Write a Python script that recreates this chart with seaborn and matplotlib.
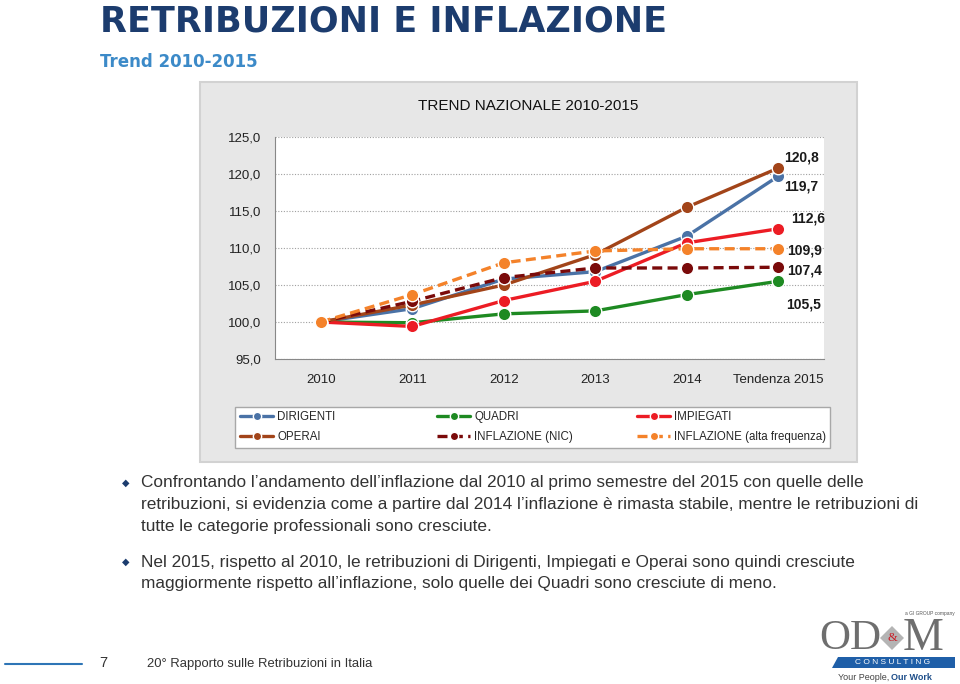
import pandas as pd
import seaborn as sns
import matplotlib.pyplot as plt
from matplotlib.patches import Rectangle, Polygon

# Dati (indice 2010 = 100)
anni = ["2010", "2011", "2012", "2013", "2014", "Tendenza 2015"]
dirigenti = [100.0, 101.8, 105.8, 106.8, 111.6, 119.7]
quadri = [100.0, 99.9, 101.1, 101.5, 103.7, 105.5]
impiegati = [100.0, 99.4, 102.9, 105.5, 110.7, 112.6]
operai = [100.0, 102.3, 105.0, 109.1, 115.5, 120.8]
infl_nic = [100.0, 102.8, 106.0, 107.3, 107.3, 107.4]
infl_alta = [100.0, 103.7, 108.0, 109.6, 109.9, 109.9]

serie = {
    "DIRIGENTI": dirigenti,
    "QUADRI": quadri,
    "IMPIEGATI": impiegati,
    "OPERAI": operai,
    "INFLAZIONE (NIC)": infl_nic,
    "INFLAZIONE (alta frequenza)": infl_alta,
}
palette = {
    "DIRIGENTI": "#4A72A6",
    "QUADRI": "#1E8A22",
    "IMPIEGATI": "#EC1C24",
    "OPERAI": "#A24419",
    "INFLAZIONE (NIC)": "#7A0A0A",
    "INFLAZIONE (alta frequenza)": "#F4822A",
}
dashes = {k: "" for k in serie}
dashes["INFLAZIONE (NIC)"] = (3, 1.6)
dashes["INFLAZIONE (alta frequenza)"] = (3, 1.6)
markers = {k: "o" for k in serie}

rows = []
for nome, valori in serie.items():
    for i, v in enumerate(valori):
        rows.append({"x": i, "valore": v, "serie": nome})
df = pd.DataFrame(rows)

sns.set_style("white")
plt.rcParams["font.family"] = ["Liberation Sans", "DejaVu Sans"]

fig = plt.figure(figsize=(9.6, 6.84), dpi=100)


def fx(px):
    return px / 960


def fy(py):
    return 1 - py / 684


# riquadro grigio del grafico
fig.patches.append(Rectangle((fx(200), fy(462)), fx(657), 380 / 684,
                             transform=fig.transFigure, facecolor="#E7E7E7",
                             edgecolor="#D2D2D2", lw=1.5, zorder=-5))

ax = fig.add_axes([fx(275), fy(359), fx(549), 222 / 684])
ax.set_zorder(2)
ax.set_facecolor("white")

sns.lineplot(data=df, x="x", y="valore", hue="serie", style="serie",
             palette=palette, dashes=dashes, markers=markers, ax=ax,
             linewidth=2.4, markersize=9, markeredgecolor="white",
             markeredgewidth=1.0, clip_on=False)

ax.set_xlim(-0.5, 5.5)
ax.set_ylim(95, 125)
ticks_y = [95, 100, 105, 110, 115, 120, 125]
ax.set_yticks(ticks_y)
ax.set_yticklabels([f"{v:.1f}".replace(".", ",") for v in ticks_y])
ax.set_xticks(range(len(anni)))
ax.set_xticklabels(anni)
ax.set_xticks([i - 0.5 for i in range(len(anni) + 1)], minor=True)
ax.tick_params(axis="x", which="major", length=0, pad=11, labelsize=9.5, colors="#222222")
ax.tick_params(axis="x", which="minor", length=4, color="#888888", direction="out")
ax.tick_params(axis="y", length=3, color="#888888", labelsize=9.5, colors="#222222", pad=7)
ax.yaxis.grid(True, linestyle=(0, (1, 1.5)), color="#A0A0A0", lw=0.8)
ax.set_axisbelow(True)
for s in ["top", "right"]:
    ax.spines[s].set_visible(False)
ax.spines["left"].set_color("#888888")
ax.spines["bottom"].set_color("#888888")
ax.set_xlabel("")
ax.set_ylabel("")

# etichette finali
offsets = {
    "OPERAI": (4, 7.5),
    "DIRIGENTI": (4, -7.5),
    "IMPIEGATI": (9, 7.5),
    "INFLAZIONE (alta frequenza)": (6.5, -1),
    "INFLAZIONE (NIC)": (6.5, -2),
    "QUADRI": (6, -17),
}
for nome, (dx, dy) in offsets.items():
    v = serie[nome][-1]
    ax.annotate(f"{v:.1f}".replace(".", ","), (len(anni) - 1, v),
                xytext=(dx, dy), textcoords="offset points", ha="left", va="center",
                fontsize=10, fontweight="bold", color="#1A1A1A", annotation_clip=False)

fig.text(fx(528), fy(106), "TREND NAZIONALE 2010-2015", ha="center", va="center",
         fontsize=11, color="#111111")

# legenda: tre colonne di larghezza uguale
handles, labels = ax.get_legend_handles_labels()
ax.get_legend().remove()
hmap = dict(zip(labels, handles))
for h in hmap.values():
    h.set_markersize(6)
    h.set_linewidth(2.4)
fig.patches.append(Rectangle((fx(235), fy(448)), fx(595), 41 / 684,
                             transform=fig.transFigure, facecolor="white",
                             edgecolor="#A8A8A8", lw=1, zorder=1))
colonne = [(240, ["DIRIGENTI", "OPERAI"]),
           (437, ["QUADRI", "INFLAZIONE (NIC)"]),
           (637, ["IMPIEGATI", "INFLAZIONE (alta frequenza)"])]
for x0, nomi in colonne:
    lg = fig.legend([hmap[k] for k in nomi], nomi, loc="center left",
                    bbox_to_anchor=(fx(x0), fy(427)), frameon=False, fontsize=8.3,
                    handlelength=2.9, labelspacing=0.75, borderpad=0, borderaxespad=0,
                    handletextpad=0.35)
    lg.set_zorder(3)

# intestazione
fig.text(fx(100), fy(32), "RETRIBUZIONI E INFLAZIONE", ha="left", va="baseline",
         fontsize=25.2, fontweight="bold", color="#1C3C6E", family="DejaVu Sans")
fig.text(fx(100), fy(67), "Trend 2010-2015", ha="left", va="baseline",
         fontsize=12, fontweight="bold", color="#3C8AC8", family="DejaVu Sans")

# testo puntato
testo_col = "#333333"
righe1 = [
    "Confrontando l\u2019andamento dell\u2019inflazione dal 2010 al primo semestre del 2015 con quelle delle",
    "retribuzioni, si evidenzia come a partire dal 2014 l\u2019inflazione \u00e8 rimasta stabile, mentre le retribuzioni di",
    "tutte le categorie professionali sono cresciute.",
]
righe2 = [
    "Nel 2015, rispetto al 2010, le retribuzioni di Dirigenti, Impiegati e Operai sono quindi cresciute",
    "maggiormente rispetto all\u2019inflazione, solo quelle dei Quadri sono cresciute di meno.",
]
for blocco, y0 in [(righe1, 483), (righe2, 562)]:
    fig.text(fx(126), fy(y0), "\u25c6", ha="center", va="center", fontsize=7,
             color="#1C3C6E", family="DejaVu Sans")
    for i, r in enumerate(blocco):
        fig.text(fx(141), fy(y0 + i * 21.7), r, ha="left", va="center",
                 fontsize=12.4, color=testo_col)

# piè di pagina
fig.add_artist(plt.Line2D([fx(5), fx(82)], [fy(664), fy(664)],
                          color="#2E75B6", lw=1.5, transform=fig.transFigure))
fig.text(fx(103), fy(663), "7", ha="center", va="center", fontsize=10.5, color="#333333")
fig.text(fx(147), fy(664), "20\u00b0 Rapporto sulle Retribuzioni in Italia", ha="left",
         va="center", fontsize=9.4, color="#333333")

# logo
fig.text(fx(955), fy(614), "a GI GROUP company", ha="right", va="center",
         fontsize=3.5, color="#555555")
fig.text(fx(881), fy(639), "OD", ha="right", va="center", fontsize=31,
         family="Liberation Serif", color="#6E6E6E")
fig.text(fx(903), fy(639), "M", ha="left", va="center", fontsize=33,
         family="Liberation Serif", color="#6E6E6E")
fig.patches.append(Polygon([(fx(892), fy(626)), (fx(904), fy(638)),
                            (fx(892), fy(650)), (fx(880), fy(638))],
                           closed=True, transform=fig.transFigure, facecolor="#B4B4B4",
                           edgecolor="none"))
fig.text(fx(892), fy(638), "&", ha="center", va="center", fontsize=9,
         color="#C8202A", family="Liberation Serif")
fig.patches.append(Polygon([(fx(832), fy(668)), (fx(838), fy(657)),
                            (fx(955), fy(657)), (fx(955), fy(668))],
                           closed=True, transform=fig.transFigure, facecolor="#1F5FA8",
                           edgecolor="none"))
fig.text(fx(893), fy(662.5), "C O N S U L T I N G", ha="center", va="center",
         fontsize=6, color="white")
fig.text(fx(889), fy(677), "Your People,", ha="right", va="center",
         fontsize=6.5, color="#444444")
fig.text(fx(891), fy(677), "Our Work", ha="left", va="center",
         fontsize=6.5, color="#1F4F8A", fontweight="bold")

fig.savefig("out.png", dpi=100)
